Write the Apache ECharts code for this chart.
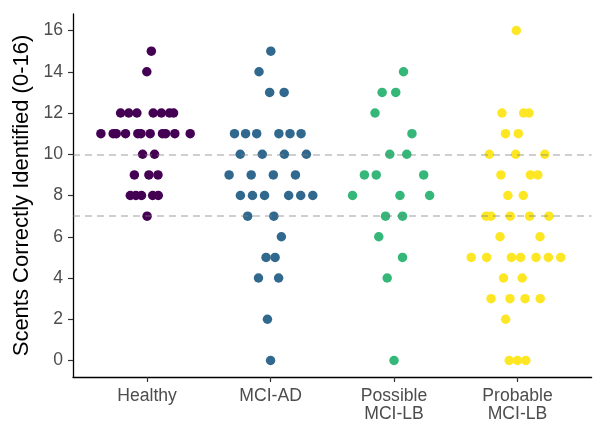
<!DOCTYPE html>
<html>
<head>
<meta charset="utf-8">
<script src="https://cdn.jsdelivr.net/npm/echarts@6/dist/echarts.min.js"></script>
<style>
html,body{margin:0;padding:0;background:#fff;}
#chart{width:598px;height:423px;}
</style>
</head>
<body>
<div id="chart"></div>
<script>
// ---- data ----
var categories = ["Healthy", "MCI-AD", "Possible\nMCI-LB", "Probable\nMCI-LB"];
var colors = ["#440154", "#31688E", "#35B779", "#FDE725"];
var healthy = [7, 8, 8, 8, 8, 8, 9, 9, 9, 10, 10,
  11, 11, 11, 11, 11, 11, 11, 11, 11, 11, 11,
  12, 12, 12, 12, 12, 12, 12, 14, 15];
var mciAD = [0, 2, 4, 4, 5, 5, 6, 7, 7, 8, 8, 8, 8, 8, 8,
  9, 9, 9, 9, 10, 10, 10, 10, 11, 11, 11, 11, 11, 11, 13, 13, 14, 15];
var possibleLB = [0, 4, 5, 6, 7, 7, 8, 8, 8, 9, 9, 9, 10, 10, 11, 12, 13, 13, 14];
var probableLB = [0, 0, 0, 2, 3, 3, 3, 3, 4, 4, 5, 5, 5, 5, 5, 5, 5, 6, 6,
  7, 7, 7, 7, 7, 8, 8, 9, 9, 9, 10, 10, 10, 11, 11, 12, 12, 12, 16];
var refLines = [10, 7];
var yTicks = [0, 2, 4, 6, 8, 10, 12, 14, 16];
var xTicks = [1, 2, 3, 4];

// ---- quasirandom (van der Corput x density) layout, as in ggbeeswarm ----
function quantile7(sorted, p) {
  var h = (sorted.length - 1) * p, lo = Math.floor(h);
  var hiV = sorted[Math.min(lo + 1, sorted.length - 1)];
  return sorted[lo] + (h - lo) * (hiV - sorted[lo]);
}
function bwNrd0(x) {
  var n = x.length, mean = x.reduce(function(a, b){return a + b;}, 0) / n;
  var sd = Math.sqrt(x.reduce(function(a, b){return a + (b - mean) * (b - mean);}, 0) / (n - 1));
  var s = x.slice().sort(function(a, b){return a - b;});
  var iqr = quantile7(s, 0.75) - quantile7(s, 0.25);
  var lo = Math.min(sd, iqr / 1.34);
  if (!lo) lo = sd || Math.abs(x[0]) || 1;
  return 0.9 * lo * Math.pow(n, -0.2);
}
function kde(x, bw, t) {
  var s = 0;
  for (var i = 0; i < x.length; i++) {
    var z = (t - x[i]) / bw;
    s += Math.exp(-0.5 * z * z);
  }
  return s / (x.length * bw * Math.sqrt(2 * Math.PI));
}
function vdc(i) {
  var r = 0, f = 0.5;
  while (i > 0) { r += f * (i % 2); i = Math.floor(i / 2); f /= 2; }
  return r;
}
function quasirandom(x, width) {
  if (x.length === 1) return [0];
  var bw = bwNrd0(x) * 0.5;
  var mn = Math.min.apply(null, x), mx = Math.max.apply(null, x);
  var from = mn - 3 * bw, to = mx + 3 * bw, maxD = 0;
  for (var g = 0; g < 512; g++) {
    maxD = Math.max(maxD, kde(x, bw, from + (to - from) * g / 511));
  }
  var idx = x.map(function(v, i){return i;});
  idx.sort(function(a, b){return x[a] - x[b] || a - b;});
  var rank = [];
  idx.forEach(function(orig, r){ rank[orig] = r + 1; });
  return x.map(function(v, i){
    return (vdc(rank[i]) - 0.5) * 2 * width * kde(x, bw, v) / maxD;
  });
}

var groups = [healthy, mciAD, possibleLB, probableLB];
var series = groups.map(function(vals, gi) {
  var off = quasirandom(vals, 0.4);
  return {
    type: 'scatter',
    name: categories[gi],
    symbol: 'circle',
    symbolSize: 9.5,
    itemStyle: { color: colors[gi], opacity: 1 },
    data: vals.map(function(v, i){ return [gi + 1 + off[i], v]; }),
    z: 2
  };
});
series.push({
  type: 'line',
  data: [],
  z: 5,
  silent: true,
  markLine: {
    silent: true,
    symbol: ['none', 'none'],
    label: { show: false },
    lineStyle: { color: 'rgba(128,128,128,0.5)', width: 1.5, type: [7, 5] },
    data: refLines.map(function(v){ return { yAxis: v }; })
  }
});

var font = 'Liberation Sans, Arial, Helvetica, sans-serif';
var chart = echarts.init(document.getElementById('chart'), null, { renderer: 'canvas' });
chart.setOption({
  animation: false,
  backgroundColor: '#ffffff',
  grid: { left: 73, right: 6.4, top: 14, bottom: 45.5, containLabel: false },
  xAxis: {
    type: 'value', min: 0.4, max: 4.6,
    splitLine: { show: false },
    axisLine: { show: true, onZero: false, lineStyle: { color: '#000', width: 1.3 } },
    axisTick: { show: true, customValues: xTicks, length: 5, lineStyle: { color: '#333', width: 1.2 } },
    axisLabel: {
      customValues: xTicks, margin: 10, color: '#4D4D4D', fontSize: 17.6, fontFamily: font, lineHeight: 18,
      formatter: function(v){ return categories[Math.round(v) - 1] || ''; }
    }
  },
  yAxis: {
    type: 'value', min: -0.8, max: 16.8,
    name: 'Scents Correctly Identified (0-16)',
    nameLocation: 'middle', nameGap: 36,
    nameTextStyle: { color: '#000', fontSize: 22, fontFamily: font },
    splitLine: { show: false },
    axisLine: { show: true, onZero: false, lineStyle: { color: '#000', width: 1.3 } },
    axisTick: { show: true, customValues: yTicks, length: 5, lineStyle: { color: '#333', width: 1.2 } },
    axisLabel: { customValues: yTicks, margin: 10, color: '#4D4D4D', fontSize: 17.6, fontFamily: font }
  },
  series: series
});
</script>
</body>
</html>
